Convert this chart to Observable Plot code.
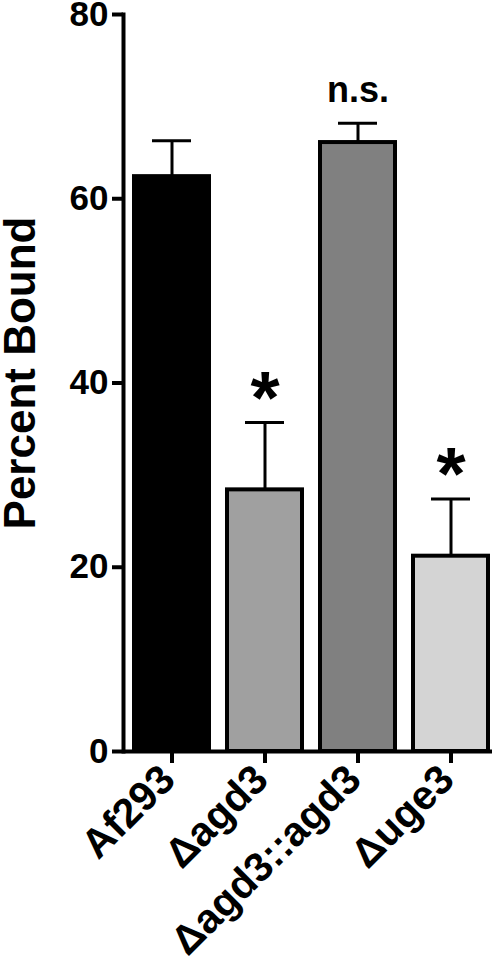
<!DOCTYPE html>
<html>
<head>
<meta charset="utf-8">
<script src="https://cdn.jsdelivr.net/npm/d3@7"></script>
<script src="https://cdn.jsdelivr.net/npm/@observablehq/plot@0.6"></script>
<style>
  html, body { margin: 0; padding: 0; background: #ffffff; }
  #chart { width: 500px; height: 963px; }
</style>
</head>
<body>
<div id="chart"></div>
<script>
const categories = ["Af293", "Δagd3", "Δagd3::agd3", "Δuge3"];
const means = [62.4, 28.4, 66.1, 21.2];
const errors = [3.9, 7.3, 2.1, 6.2];
const barFills = ["#000000", "#a0a0a0", "#808080", "#d4d4d4"];
const annotations = ["", "*", "n.s.", "*"];
const yTicks = [0, 20, 40, 60, 80];
const yTitle = "Percent Bound";

const data = categories.map((c, i) => ({
  cat: c, mean: means[i], top: means[i] + errors[i], fill: barFills[i], note: annotations[i]
}));

const font = "'Liberation Sans', Arial, Helvetica, sans-serif";

const chart = Plot.plot({
  width: 500,
  height: 963,
  marginLeft: 123,
  marginRight: 0,
  marginTop: 14,
  marginBottom: 212,
  style: { fontFamily: font, background: "#ffffff", color: "#000" },
  x: { domain: categories, paddingInner: 0.19, paddingOuter: 0.107, label: null },
  y: { domain: [0, 80], label: null },
  color: { type: "identity" },
  marks: [
    Plot.ruleX(data, { x: "cat", y1: "mean", y2: "top", stroke: "#000", strokeWidth: 3 }),
    Plot.tickY(data, { x: "cat", y: "top", stroke: "#000", strokeWidth: 3, insetLeft: 18, insetRight: 18 }),
    Plot.barY(data, { x: "cat", y: "mean", fill: "fill", stroke: "#000", strokeWidth: 4 }),
    Plot.ruleY([0], { stroke: "#000", strokeWidth: 4, insetRight: 8 }),
    Plot.frame({ anchor: "left", stroke: "#000", strokeWidth: 4 }),
    Plot.axisY({ ticks: yTicks, tickSize: 11, tickPadding: 4, strokeWidth: 4, fontSize: 35, fontWeight: "bold", label: null }),
    Plot.axisX({ tickSize: 12, strokeWidth: 4, text: null, label: null }),
    Plot.axisX({ tickSize: 12, tickPadding: 9, dx: -4, tickRotate: -45, fontSize: 41, fontWeight: "bold", stroke: "none", label: null }),
    Plot.text(data.filter(d => d.note === "*"), { x: "cat", y: "top", text: "note", fontSize: 75, fontWeight: "bold", dy: -24 }),
    Plot.text(data.filter(d => d.note === "n.s."), { x: "cat", y: "top", text: "note", fontSize: 36, fontWeight: "bold", lineAnchor: "bottom", dy: -21 }),
    Plot.text([yTitle], { frameAnchor: "left", textAnchor: "middle", rotate: -90, dx: -103, dy: -10, fontSize: 44, fontWeight: "bold" })
  ]
});

document.getElementById("chart").appendChild(chart);
</script>
</body>
</html>
